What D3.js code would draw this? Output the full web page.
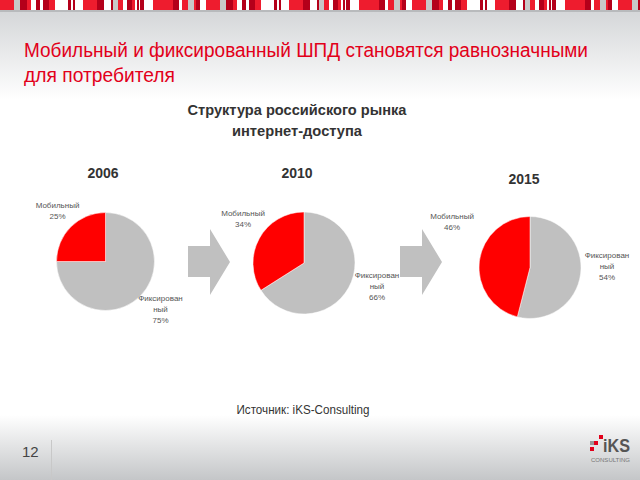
<!DOCTYPE html>
<html><head><meta charset="utf-8">
<script src="https://cdn.jsdelivr.net/npm/d3@7/dist/d3.min.js"></script>
<style>body{margin:0;padding:0;overflow:hidden}svg{display:block}</style>
</head><body>
<script>
const years = ["2006", "2010", "2015"];
const mobile = [25, 34, 46];
const fixed = [75, 66, 54];
const mobileLabel = ["Мобильный"];
const fixedLabel = ["Фиксирован", "ный"];
const titleLines = ["Мобильный и фиксированный ШПД становятся равнозначными", "для потребителя"];
const subtitleLines = ["Структура российского рынка", "интернет-доступа"];
const sourceText = "Источник: iKS-Consulting";
const pageNum = "12";

const W = 640, H = 480;
const svg = d3.select("body").append("svg").attr("width", W).attr("height", H);
const defs = svg.append("defs");
const gTop = defs.append("linearGradient").attr("id", "gt").attr("x1", 0).attr("y1", 0).attr("x2", 0).attr("y2", 1);
gTop.append("stop").attr("offset", "0%").attr("stop-color", "#d4d6d8");
gTop.append("stop").attr("offset", "100%").attr("stop-color", "#ffffff");
const gBot = defs.append("linearGradient").attr("id", "gb").attr("x1", 0).attr("y1", 0).attr("x2", 0).attr("y2", 1);
gBot.append("stop").attr("offset", "0%").attr("stop-color", "#ffffff");
gBot.append("stop").attr("offset", "100%").attr("stop-color", "#c4c6c8");

svg.append("rect").attr("width", W).attr("height", H).attr("fill", "#fff");
svg.append("rect").attr("y", 10).attr("width", W).attr("height", 90).attr("fill", "url(#gt)");
svg.append("rect").attr("y", 415).attr("width", W).attr("height", 65).attr("fill", "url(#gb)");

// decorative top stripe
const stripe = [[14,"#ee1c2e"],[6,"#c8c8c8"],[7,"#b4001a"],[4,"#ee1c2e"],[5,"#fff"],[4,"#b4001a"],[3,"#fff"],[6,"#b4001a"],[6,"#ee1c2e"],[13,"#fff"],[3,"#b4001a"],[2,"#fff"],[2,"#b4001a"],[8,"#fff"],[14,"#ee1c2e"],[7,"#b4001a"],[7,"#fff"],[2,"#b4001a"],[5,"#c8c8c8"],[5,"#ee1c2e"],[4,"#fff"],[5,"#b4001a"],[3,"#ee1c2e"],[2,"#fff"],[2,"#b4001a"],[1,"#fff"],[4,"#b4001a"],[9,"#fff"],[20,"#ee1c2e"],[6,"#b4001a"],[3,"#fff"],[6,"#ee1c2e"],[6,"#c8c8c8"],[2,"#ee1c2e"],[4,"#b4001a"],[6,"#fff"]];
let sx = 0, sd = [];
while (sx < W) { stripe.forEach(s => { sd.push({x: sx, w: s[0], c: s[1]}); sx += s[0]; }); }
svg.append("g").selectAll("rect").data(sd).join("rect")
  .attr("x", d => d.x).attr("y", 0).attr("width", d => d.w).attr("height", 10).attr("fill", d => d.c);
svg.append("rect").attr("y", 10).attr("width", W).attr("height", 2).attr("fill", "#b8babc");

const narrow = "'Liberation Sans Narrow', 'Arial Narrow', 'Liberation Sans', Arial, sans-serif";

// title
svg.append("g").selectAll("text").data(titleLines).join("text")
  .attr("x", 24).attr("y", (d, i) => 57 + i * 25)
  .attr("font-family", narrow).attr("font-size", 19.5).attr("fill", "#e2001a")
  .attr("textLength", (d, i) => i === 0 ? 564 : 151).attr("lengthAdjust", "spacingAndGlyphs")
  .text(d => d);

svg.append("g").selectAll("text").data(subtitleLines).join("text")
  .attr("x", 297).attr("y", (d, i) => 115 + i * 21).attr("text-anchor", "middle")
  .attr("font-family", narrow).attr("font-size", 15.5).attr("font-weight", "bold").attr("fill", "#333")
  .attr("textLength", (d, i) => i === 0 ? 219 : 130).attr("lengthAdjust", "spacingAndGlyphs")
  .text(d => d);

// pies
const cx = d3.scaleOrdinal().domain(years).range([105.5, 304, 530]);
const cy = d3.scaleOrdinal().domain(years).range([261.5, 263, 267.5]);
const rr = d3.scaleOrdinal().domain(years).range([49, 51, 51]);
const yearY = d3.scaleOrdinal().domain(years).range([178, 178, 184]);
const yearX = d3.scaleOrdinal().domain(years).range([103, 297, 524]);
const color = d3.scaleOrdinal().domain(["fixed", "mobile"]).range(["#c0c0c0", "#ff0000"]);
const pie = d3.pie().sort(null).value(d => d.v);

// label positions (relative offset from pie centre)
const mobLab = d3.scaleOrdinal().domain(years).range([[-48, -54], [-61, -47], [-78, -49]]);
const fixLab = d3.scaleOrdinal().domain(years).range([[55, 39], [73, 15], [77, -10]]);

years.forEach((y, i) => {
  const g = svg.append("g").attr("transform", `translate(${cx(y)},${cy(y)})`);
  const data = [{k: "fixed", v: fixed[i]}, {k: "mobile", v: mobile[i]}];
  const arc = d3.arc().innerRadius(0).outerRadius(rr(y));
  g.selectAll("path").data(pie(data)).join("path")
    .attr("d", arc).attr("fill", d => color(d.data.k)).attr("stroke", "#fff").attr("stroke-width", 0.5);
  svg.append("text").attr("x", yearX(y)).attr("y", yearY(y)).attr("text-anchor", "middle")
    .attr("font-family", "'Liberation Sans', Arial, sans-serif").attr("font-weight", "bold")
    .attr("font-size", 14).attr("fill", "#333").text(y);
  const ml = mobLab(y);
  const mt = g.append("text").attr("text-anchor", "middle").attr("font-family", narrow)
    .attr("font-size", 8).attr("fill", "#555");
  mobileLabel.concat([mobile[i] + "%"]).forEach((t, j) => {
    mt.append("tspan").attr("x", ml[0]).attr("y", ml[1] + j * 11).text(t);
  });
  const fl = fixLab(y);
  const ft = g.append("text").attr("text-anchor", "middle").attr("font-family", narrow)
    .attr("font-size", 8).attr("fill", "#555");
  fixedLabel.concat([fixed[i] + "%"]).forEach((t, j) => {
    ft.append("tspan").attr("x", fl[0]).attr("y", fl[1] + j * 11).text(t);
  });
});

// arrows between pies
const arrowX = [188, 400];
arrowX.forEach(x0 => {
  const p = d3.path();
  p.moveTo(x0, 246); p.lineTo(x0 + 22, 246); p.lineTo(x0 + 22, 229);
  p.lineTo(x0 + 42, 262); p.lineTo(x0 + 22, 295); p.lineTo(x0 + 22, 277);
  p.lineTo(x0, 277); p.closePath();
  svg.append("path").attr("d", p.toString()).attr("fill", "#c0c0c0");
});

svg.append("text").attr("x", 303).attr("y", 414).attr("text-anchor", "middle")
  .attr("font-family", narrow).attr("font-size", 12.5).attr("fill", "#333")
  .attr("textLength", 133).attr("lengthAdjust", "spacingAndGlyphs").text(sourceText);

svg.append("text").attr("x", 22).attr("y", 457).attr("font-family", narrow)
  .attr("font-size", 15).attr("fill", "#444").text(pageNum);
svg.append("line").attr("x1", 51.5).attr("x2", 51.5).attr("y1", 440).attr("y2", 480)
  .attr("stroke", "#c8c8c8");

// logo
const lg = svg.append("g");
[[590, 447, "#e2001a"], [594, 441, "#e2001a"], [599, 435, "#e2001a"], [590, 441, "#999"]].forEach(s => {
  lg.append("rect").attr("x", s[0]).attr("y", s[1]).attr("width", 4).attr("height", 4).attr("fill", s[2]);
});
lg.append("text").attr("x", 603).attr("y", 452).attr("font-family", narrow).attr("font-weight", "bold")
  .attr("font-size", 19).attr("fill", "#555").attr("textLength", 27).attr("lengthAdjust", "spacingAndGlyphs").text("iKS");
lg.append("text").attr("x", 591).attr("y", 462).attr("font-family", narrow)
  .attr("font-size", 5).attr("fill", "#777").attr("textLength", 39).attr("lengthAdjust", "spacingAndGlyphs").text("CONSULTING");
</script>
</body></html>
